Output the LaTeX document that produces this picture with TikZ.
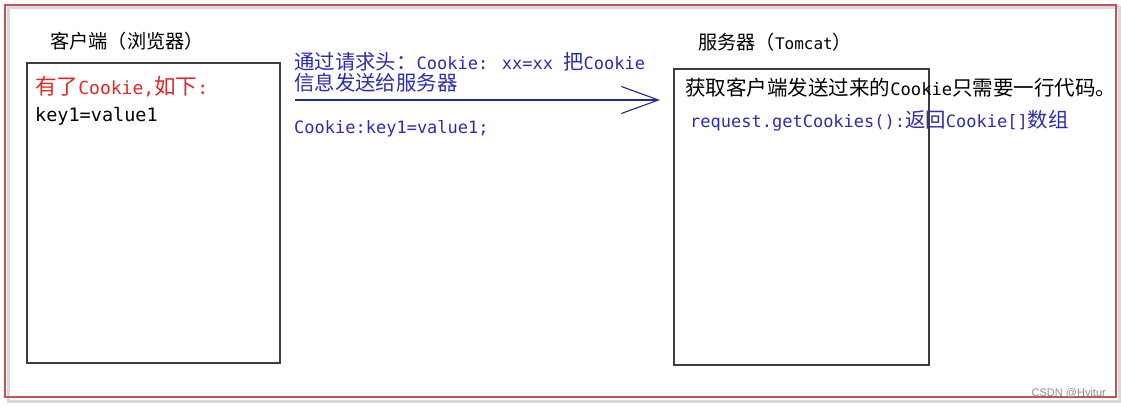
\documentclass[tikz,border=0pt]{standalone}
\usepackage{fontspec}
\setmainfont{DejaVu Sans Mono}
\newfontfamily\cjk[Scale=1.2]{Noto Sans CJK SC}
\newfontfamily\wmfont{Liberation Sans}
\usetikzlibrary{arrows.meta}
\definecolor{framered}{RGB}{196,84,84}
\definecolor{txtred}{RGB}{222,40,40}
\definecolor{txtblue}{RGB}{45,45,170}
\definecolor{arrowblue}{RGB}{40,40,150}
\definecolor{boxline}{RGB}{60,60,60}
\begin{document}
\begin{tikzpicture}[x=1pt,y=-1pt,
  txt/.style={anchor=base west,inner sep=0pt,font=\fontsize{17}{20}\selectfont},
  titletxt/.style={txt,font=\fontsize{16}{19}\selectfont},
  panel/.style={draw=boxline,line width=1.8pt,anchor=north west,inner sep=0pt}]
\useasboundingbox (0,0) rectangle (1121,406);
\fill[white] (0,0) rectangle (1121,406);
% outer frame with faint shadow
\draw[black!15,line width=3pt] (8,8) rectangle (1119,401);
\draw[framered,line width=2pt] (5,5) rectangle (1116,397);
% panels
\node[panel,minimum width=253pt,minimum height=300pt] (client) at (26,62) {};
\node[panel,minimum width=255pt,minimum height=296pt] (server) at (673,68) {};
% titles
\node[titletxt] (clienttitle) at (50,49) {{\cjk 客户端（浏览器）}};
\node[titletxt] (servertitle) at (698,50) {{\cjk 服务器（}Tomcat{\cjk ）}};
% client contents
\node[txt,text=txtred,font=\fontsize{18}{20}\selectfont] (has) at (35,95) {{\cjk 有了}Cookie,{\cjk 如下}:};
\node[txt,font=\fontsize{18.5}{20}\selectfont] (kv) at (35,122) {key1=value1};
% message
\node[txt,text=txtblue] (msg1) at (294,70) {{\cjk 通过请求头：}Cookie: xx=xx {\cjk 把}Cookie};
\node[txt,text=txtblue] (msg2) at (294,91) {{\cjk 信息发送给服务器}};
\node[txt,text=txtblue] (msg3) at (294,134) {Cookie:key1=value1;};
% arrow
\coordinate (astart) at (295,100);
\coordinate (aend) at (660,100);
\draw[arrowblue,line width=1.1pt,-{Straight Barb[length=37pt,width=27pt,line width=1.1pt]}] (astart) -- (aend);
% server contents
\node[txt,font=\fontsize{17.1}{20}\selectfont] (get) at (685,96) {{\cjk 获取客户端发送过来的}Cookie{\cjk 只需要一行代码。}};
\node[txt,text=txtblue] (req) at (690,128) {request.getCookies():{\cjk 返回}Cookie[]{\cjk 数组}};
% watermark
\node[anchor=base east,inner sep=0pt,text=black!45,font=\wmfont\fontsize{11}{12}\selectfont] (wm) at (1106,396) {CSDN @Hvitur};
\end{tikzpicture}
\end{document}
